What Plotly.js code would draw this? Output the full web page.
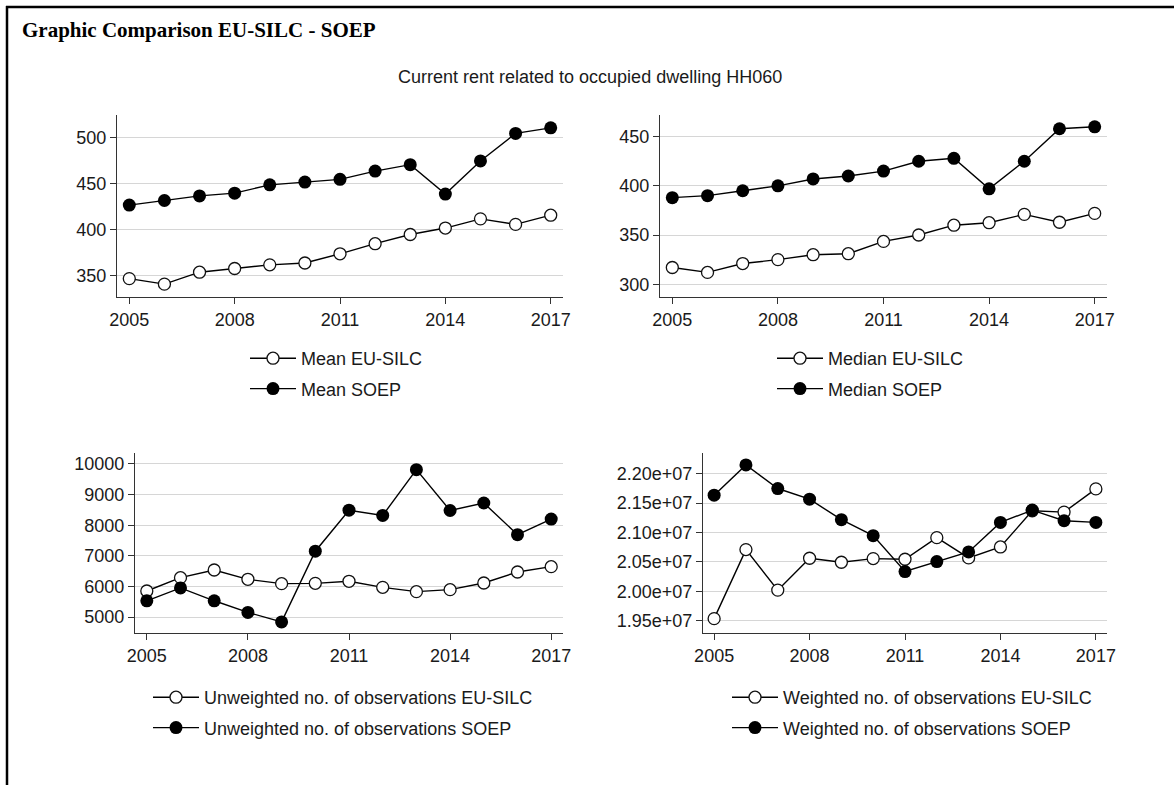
<!DOCTYPE html>
<html>
<head>
<meta charset="utf-8">
<script src="https://cdn.plot.ly/plotly-3.0.1.min.js"></script>
<style>html,body{margin:0;padding:0;background:#fff;}#chart{width:1174px;height:785px;}</style>
</head>
<body>
<div id="chart"></div>
<script>
// ---- data ----
const years = [2005, 2006, 2007, 2008, 2009, 2010, 2011, 2012, 2013, 2014, 2015, 2016, 2017];
const xTickVals = [2005, 2008, 2011, 2014, 2017];
const xTickText = ['2005', '2008', '2011', '2014', '2017'];

const meanSilc = [347, 341, 354, 358, 362, 364, 374, 385, 395, 402, 412, 406, 416];
const meanSoep = [427, 432, 437, 440, 449, 452, 455, 464, 471, 439, 475, 505, 511];

const medianSilc = [317, 312, 321, 325, 330, 331, 343.5, 350, 360, 362.5, 371, 363, 372];
const medianSoep = [388, 390, 395, 400, 407, 410, 415, 425, 428, 397, 425, 458, 460];

const unwSilc = [5850, 6285, 6536, 6231, 6089, 6100, 6166, 5969, 5828, 5893, 6111, 6471, 6645];
const unwSoep = [5530, 5950, 5530, 5150, 4840, 7150, 8490, 8320, 9815, 8480, 8725, 7690, 8200];

const wSilc = [19534000, 20708000, 20019000, 20561000, 20493000, 20555000, 20544000, 20911000, 20567000, 20753000, 21368000, 21345000, 21740000];
const wSoep = [21633000, 22147000, 21746000, 21565000, 21216000, 20945000, 20335000, 20505000, 20668000, 21170000, 21379000, 21199000, 21170000];

const y1Ticks = [350, 400, 450, 500];
const y2Ticks = [300, 350, 400, 450];
const y3Ticks = [5000, 6000, 7000, 8000, 9000, 10000];
const y4Ticks = [19500000, 20000000, 20500000, 21000000, 21500000, 22000000];
const y4Text = ['1.95e+07', '2.00e+07', '2.05e+07', '2.10e+07', '2.15e+07', '2.20e+07'];

const names = {
  meanSilc: 'Mean EU-SILC', meanSoep: 'Mean SOEP',
  medianSilc: 'Median EU-SILC', medianSoep: 'Median SOEP',
  unwSilc: 'Unweighted no. of observations EU-SILC', unwSoep: 'Unweighted no. of observations SOEP',
  wSilc: 'Weighted no. of observations EU-SILC', wSoep: 'Weighted no. of observations SOEP'
};

// ---- styling helpers ----
const W = 1174, H = 785;
const px = v => v / W;
const py = v => 1 - v / H;
const LINE = {color: '#000', width: 1.4};
const openM = {symbol: 'circle', size: 12, color: '#fff', line: {color: '#111', width: 1.3}};
const fillM = {symbol: 'circle', size: 13, color: '#000', line: {color: '#000', width: 0}};

function tr(y, name, hollow, xa, ya, lg) {
  return {x: years, y: y, name: name, type: 'scatter', mode: 'lines+markers', legendgroup: name,
    line: LINE, marker: hollow ? openM : fillM, xaxis: xa, yaxis: ya, legend: lg, hoverinfo: 'x+y'};
}

const traces = [
  tr(meanSilc, names.meanSilc, true, 'x', 'y', 'legend'),
  tr(meanSoep, names.meanSoep, false, 'x', 'y', 'legend'),
  tr(medianSilc, names.medianSilc, true, 'x2', 'y2', 'legend2'),
  tr(medianSoep, names.medianSoep, false, 'x2', 'y2', 'legend2'),
  tr(unwSilc, names.unwSilc, true, 'x3', 'y3', 'legend3'),
  tr(unwSoep, names.unwSoep, false, 'x3', 'y3', 'legend3'),
  tr(wSilc, names.wSilc, true, 'x4', 'y4', 'legend4'),
  tr(wSoep, names.wSoep, false, 'x4', 'y4', 'legend4')
];

const FONT = {family: 'Liberation Sans, Arial, sans-serif', size: 18, color: '#1a1a1a'};

function xax(d, anchor) {
  return {domain: d, anchor: anchor, range: [2004.65, 2017.35], tickvals: xTickVals, ticktext: xTickText,
    showgrid: false, zeroline: false, showline: true, linecolor: '#333', linewidth: 1.2,
    ticks: 'outside', ticklen: 6, tickcolor: '#333', tickwidth: 1.2, tickfont: FONT, fixedrange: true};
}
function yax(d, anchor, range, tv, tt) {
  return {domain: d, anchor: anchor, range: range, tickvals: tv, ticktext: tt || tv.map(String),
    showgrid: true, gridcolor: '#d6d6d6', gridwidth: 1, zeroline: false, showline: true, linecolor: '#333', linewidth: 1.2,
    ticks: 'outside', ticklen: 6, tickcolor: '#333', tickwidth: 1.2, tickfont: FONT, fixedrange: true};
}
function leg(x, y) {
  return {x: x, y: y, xanchor: 'left', yanchor: 'top', bgcolor: 'rgba(0,0,0,0)', borderwidth: 0,
    font: FONT, orientation: 'v', traceorder: 'grouped', itemwidth: 46, tracegroupgap: 4,
    itemclick: false, itemdoubleclick: false};
}

const topY = [py(297), py(115)];
const botY = [py(633), py(453)];

const layout = {
  width: W, height: H, margin: {l: 0, r: 0, t: 0, b: 0},
  paper_bgcolor: '#fff', plot_bgcolor: '#fff', font: FONT, showlegend: true,
  xaxis: xax([px(117), px(563)], 'y'),
  yaxis: yax(topY, 'x', [327, 525], y1Ticks),
  xaxis2: xax([px(660), px(1107)], 'y2'),
  yaxis2: yax(topY, 'x2', [287, 472], y2Ticks),
  xaxis3: xax([px(135), px(563)], 'y3'),
  yaxis3: yax(botY, 'x3', [4477, 10359], y3Ticks),
  xaxis4: xax([px(703), px(1107)], 'y4'),
  yaxis4: yax(botY, 'x4', [19290000, 22350000], y4Ticks, y4Text),
  legend: leg(px(245), py(340)),
  legend2: leg(px(772), py(340)),
  legend3: leg(px(148), py(679)),
  legend4: leg(px(727), py(679)),
  shapes: [
    {type: 'line', xref: 'paper', yref: 'paper', x0: px(6), x1: 1, y0: py(7), y1: py(7), line: {color: '#000', width: 2.5}},
    {type: 'line', xref: 'paper', yref: 'paper', x0: px(7), x1: px(7), y0: py(6), y1: 0, line: {color: '#000', width: 2.5}}
  ],
  annotations: [
    {text: '<b>Graphic Comparison EU-SILC - SOEP</b>', xref: 'paper', yref: 'paper', x: px(20), y: py(30),
      xanchor: 'left', yanchor: 'middle', showarrow: false,
      font: {family: 'Liberation Serif, Times New Roman, serif', size: 21, color: '#000'}},
    {text: 'Current rent related to occupied dwelling HH060', xref: 'paper', yref: 'paper', x: px(590), y: py(77),
      xanchor: 'center', yanchor: 'middle', showarrow: false, font: FONT}
  ]
};

Plotly.newPlot('chart', traces, layout, {displayModeBar: false});
</script>
</body>
</html>
